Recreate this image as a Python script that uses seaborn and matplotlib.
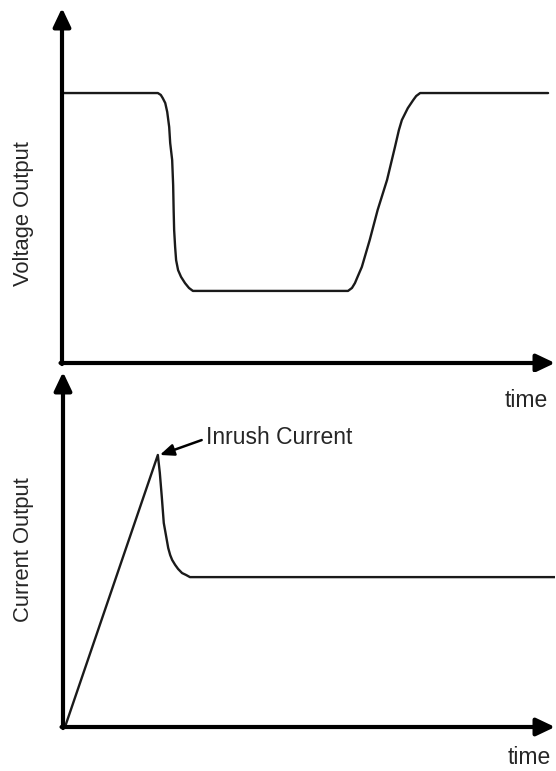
import numpy as np
import pandas as pd
import matplotlib
matplotlib.use('Agg')
import matplotlib.pyplot as plt
import seaborn as sns

# Voltage trace (time in arbitrary units, voltage relative to nominal)
volt_time = [0, 19.4, 20.0, 20.4, 20.9, 21.3, 21.7, 21.9, 22.3, 22.5, 22.6, 22.7, 22.9, 23.1,
             23.5, 24.1, 24.9, 25.7, 26.5,
             57.9, 58.7, 59.3, 59.9, 60.7, 62.3, 63.9, 65.8, 67.4, 68.2, 68.8, 69.4, 70.0,
             71.1, 71.7, 72.5, 98.4]
volt_value = [1.0, 1.0, 0.993, 0.981, 0.963, 0.930, 0.874, 0.815, 0.752, 0.659, 0.567, 0.493,
              0.430, 0.381, 0.344, 0.319, 0.296, 0.278, 0.267,
              0.267, 0.278, 0.296, 0.322, 0.356, 0.456, 0.567, 0.678, 0.800, 0.863, 0.900,
              0.922, 0.944, 0.974, 0.989, 1.0, 1.0]

# Current trace (peak = inrush current)
curr_time = [0.4, 19.2, 19.6, 20.0, 20.4, 20.9, 21.3, 21.7, 22.1, 22.7, 23.3, 24.1, 24.9, 25.7, 99.8]
curr_value = [0.0, 1.0, 0.934, 0.846, 0.750, 0.699, 0.658, 0.632, 0.614, 0.596, 0.581, 0.566,
              0.559, 0.551, 0.551]

sns.set_style('white')
plt.rcParams['font.family'] = ['Liberation Sans', 'DejaVu Sans']

W, H = 556, 771
fig = plt.figure(figsize=(W / 100, H / 100), dpi=100)

def px_axes(left, bottom, right, top):
    return fig.add_axes([left / W, 1 - bottom / H, (right - left) / W, (bottom - top) / H])

ax1 = px_axes(62, 363, 555, 8)
ax2 = px_axes(63, 727, 555, 372)

df_v = pd.DataFrame({'time': volt_time, 'voltage': volt_value})
df_c = pd.DataFrame({'time': curr_time, 'current': curr_value})

sns.lineplot(data=df_v, x='time', y='voltage', ax=ax1, color='#1a1a1a', lw=1.7,
             estimator=None, sort=False)
sns.lineplot(data=df_c, x='time', y='current', ax=ax2, color='#1a1a1a', lw=1.7,
             estimator=None, sort=False)

ax1.set_xlim(0, 99.8)
ax1.set_ylim(0, 1.315)
ax2.set_xlim(0, 99.6)
ax2.set_ylim(0, 1.305)

for ax in (ax1, ax2):
    for s in ax.spines.values():
        s.set_visible(False)
    ax.set_xticks([])
    ax.set_yticks([])
    ax.set_xlabel('')
    ax.set_ylabel('')
    arrow = dict(arrowstyle='-|>,head_length=0.8,head_width=0.38', lw=3, color='black',
                 shrinkA=0, shrinkB=0, mutation_scale=14)
    ax.annotate('', xy=(1, 0), xytext=(-0.003, 0), xycoords='axes fraction', arrowprops=arrow)
    ax.annotate('', xy=(0, 1), xytext=(0, -0.003), xycoords='axes fraction', arrowprops=arrow)

fig.text(24 / W, 1 - 214 / H, 'Voltage Output', rotation=90, ha='center', va='center', fontsize=15.8)
fig.text(24 / W, 1 - 550 / H, 'Current Output', rotation=90, ha='center', va='center', fontsize=15.8)
fig.text(526 / W, 1 - 400 / H, 'time', ha='center', va='center', fontsize=16.5)
fig.text(529 / W, 1 - 758 / H, 'time', ha='center', va='center', fontsize=16.5)

ax2.annotate('Inrush Current', xy=(curr_time[1] + 0.4, curr_value[1]), xytext=(29.0, 1.065),
             textcoords='data', fontsize=16.5, va='center', ha='left',
             arrowprops=dict(arrowstyle='-|>,head_length=0.6,head_width=0.25', lw=1.8,
                             color='black', shrinkA=1, shrinkB=0, mutation_scale=14,
                             relpos=(0, 0.45)))

fig.savefig('out.png', dpi=100)
